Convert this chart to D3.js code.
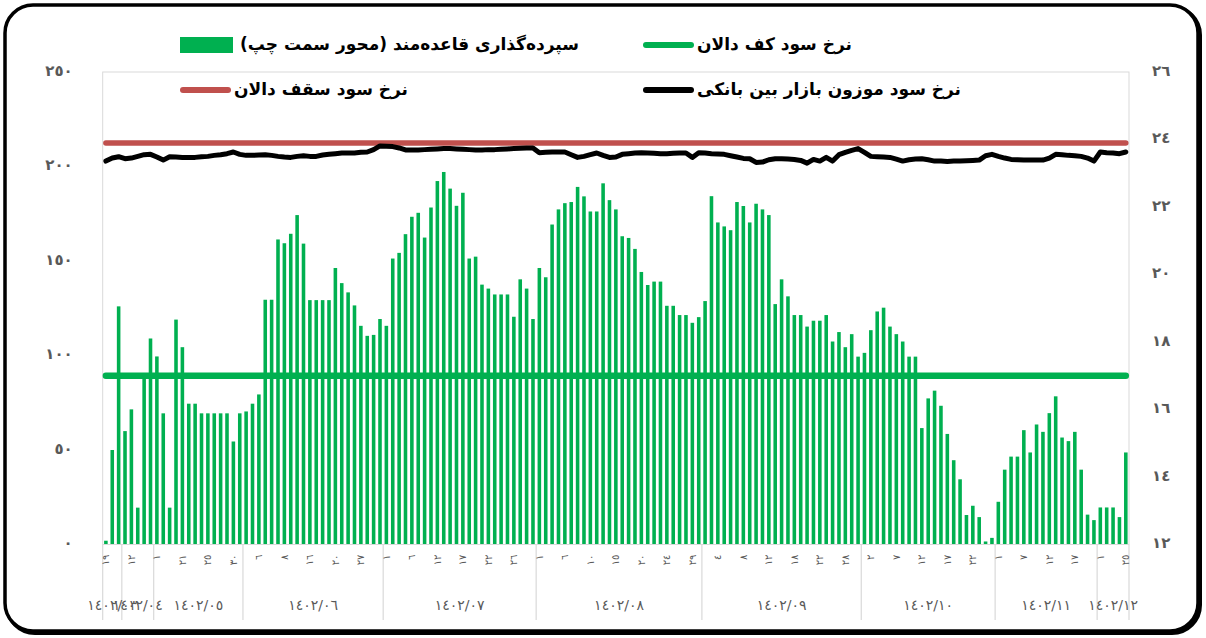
<!DOCTYPE html>
<html lang="fa">
<head>
<meta charset="UTF-8">
<title>سپرده‌گذاری قاعده‌مند و نرخ سود بازار بین بانکی</title>
<script src="https://d3js.org/d3.v7.min.js"></script>
<style>
    body { margin: 0; background: #fff; }
    text { font-family: "DejaVu Sans", sans-serif; }
    .legend-label { font-size: 17px; font-weight: bold; fill: #000; }
    .axis-label { font-size: 15px; font-weight: bold; fill: #595959; }
    .day-label { font-size: 10px; fill: #595959; }
    .month-label { font-size: 14px; fill: #595959; }
</style>
</head>
<body>
<div id="chart"></div>
<script>
// bars: rule-based deposits (left axis)
const deposits = [
    2, 50, 126, 60, 71.5, 19.5, 88, 109, 99.5, 69.4,
    19.5, 119, 104.4, 74.5, 74.5, 69.4, 69.4, 69.4, 69.4, 69.4,
    54.5, 69.4, 70.4, 74.5, 79.4, 129.5, 129.5, 161.4, 159.4, 164.4,
    174.3, 159.2, 129.3, 129.3, 129.3, 129.3, 146.3, 138.3, 133.4, 126.5,
    115.7, 110.4, 110.9, 119.3, 115.7, 151.3, 154.3, 164.2, 173.4, 175.5,
    162.4, 178.3, 192.3, 197.1, 188.3, 179.2, 186.1, 151.3, 152.3, 137.5,
    135.4, 132.3, 132.3, 132.3, 120.5, 140.3, 135.4, 119.3, 146.3, 141.4,
    169.3, 177.3, 180.6, 181.2, 189.2, 184.2, 176.2, 176.2, 191.1, 182.2,
    177.3, 163.1, 162.2, 156.4, 144.2, 137.3, 139.1, 139.1, 126.3, 126.3,
    121.4, 121.4, 117.3, 120.3, 128.8, 184.3, 170.4, 168.3, 166.3, 181.2,
    179.1, 170.4, 180.3, 177.3, 174.3, 127.2, 140.3, 131.3, 121.4, 121.4,
    115.3, 118.4, 118.4, 121.4, 107.4, 112.4, 104.4, 111.3, 99.4, 101.4,
    113.4, 123.3, 125.3, 115.3, 111.3, 107.4, 99.4, 99.4, 61.6, 77.3,
    81.4, 73.4, 58.5, 44.6, 34.5, 15.6, 20.5, 14.5, 1.6, 3.5,
    22.6, 39.6, 46.5, 46.5, 60.5, 48.7, 63.5, 59.6, 69.5, 78.4,
    56.6, 54.7, 59.6, 39.6, 15.8, 12.9, 19.6, 19.6, 19.6, 14.5,
    48.7
];

// weighted interbank rate (right axis)
const interbank = [
    23.36, 23.45, 23.49, 23.43, 23.45, 23.5, 23.55, 23.56, 23.48, 23.39,
    23.49, 23.48, 23.47, 23.47, 23.47, 23.49, 23.5, 23.53, 23.55, 23.58,
    23.63, 23.56, 23.53, 23.53, 23.54, 23.55, 23.53, 23.5, 23.48, 23.47,
    23.5, 23.52, 23.5, 23.5, 23.54, 23.56, 23.58, 23.6, 23.6, 23.6,
    23.62, 23.63, 23.7, 23.81, 23.8, 23.79, 23.75, 23.69, 23.69, 23.69,
    23.7, 23.71, 23.72, 23.73, 23.73, 23.72, 23.71, 23.7, 23.69, 23.69,
    23.7, 23.7, 23.71, 23.72, 23.73, 23.74, 23.75, 23.75, 23.61, 23.62,
    23.63, 23.63, 23.63, 23.55, 23.47, 23.5, 23.55, 23.6, 23.53, 23.47,
    23.48, 23.56, 23.58, 23.6, 23.61, 23.6, 23.59, 23.58, 23.58, 23.59,
    23.6, 23.6, 23.47, 23.61, 23.6, 23.58, 23.57, 23.56, 23.52, 23.48,
    23.44, 23.43, 23.32, 23.33, 23.4, 23.43, 23.43, 23.42, 23.41, 23.38,
    23.3, 23.41, 23.36, 23.47, 23.36, 23.55, 23.62, 23.68, 23.73, 23.62,
    23.5, 23.49, 23.48, 23.47, 23.42, 23.36, 23.4, 23.42, 23.43, 23.4,
    23.36, 23.36, 23.35, 23.36, 23.36, 23.37, 23.38, 23.39, 23.52, 23.56,
    23.5, 23.45, 23.41, 23.4, 23.39, 23.39, 23.39, 23.39, 23.45, 23.56,
    23.55, 23.53, 23.52, 23.5, 23.45, 23.36, 23.63, 23.61, 23.6, 23.58,
    23.63
];

// corridor floor / ceiling (right axis)
const floorRate = 17;
const ceilingRate = 23.9;

// day labels, shown on every 4th category
const dayLabels = [
    "١٩", "١٢", "١", "٢١", "٢٥", "٣٠", "٦", "٨", "١٦", "٢٠",
    "٢٧", "١", "٦", "١٢", "١٧", "٢٢", "٢٦", "١", "٦", "١٠",
    "١٥", "٢٠", "٢٤", "٢٩", "٤", "٨", "١٢", "١٨", "٢٢", "٢٨",
    "٢", "٧", "١٢", "١٧", "٢٢", "١", "٧", "١٢", "١٧", "١",
    "٢٥"
];
const labelStep = 4;

// month groups on the outer axis level
const monthLabels = ["١٤٠٢/٠٣", "١٤٠٢/٠٤", "١٤٠٢/٠٥", "١٤٠٢/٠٦", "١٤٠٢/٠٧",
                     "١٤٠٢/٠٨", "١٤٠٢/٠٩", "١٤٠٢/١٠", "١٤٠٢/١١", "١٤٠٢/١٢"];
const monthCounts = [3, 5, 14, 22, 24, 26, 25, 21, 16, 5];

const leftTicks = [0, 50, 100, 150, 200, 250];
const rightTicks = [12, 14, 16, 18, 20, 22, 24, 26];

// Dimensions
const width = 1206;
const height = 638;
const plot = { left: 102.7, right: 1129, top: 72, bottom: 544.5 };

const toFa = v => String(v).replace(/\d/g, d => "٠١٢٣٤٥٦٧٨٩"[d]);

const svg = d3.select("#chart")
    .append("svg")
    .attr("width", width)
    .attr("height", height);

// Outer rounded frame
svg.append("rect")
    .attr("x", 7).attr("y", 7)
    .attr("width", 1193).attr("height", 626)
    .attr("rx", 28)
    .attr("fill", "none")
    .attr("stroke", "#000")
    .attr("stroke-width", 4);
svg.append("rect")
    .attr("x", 5).attr("y", 5)
    .attr("width", 1193).attr("height", 626)
    .attr("rx", 28)
    .attr("fill", "#fff")
    .attr("stroke", "#000")
    .attr("stroke-width", 3.5);

// Scales
const x = d3.scaleBand()
    .domain(d3.range(deposits.length))
    .range([plot.left, plot.right])
    .paddingInner(0.44)
    .paddingOuter(0.22);

const yL = d3.scaleLinear().domain([0, 250]).range([plot.bottom, plot.top]);
const yR = d3.scaleLinear().domain([12, 26]).range([plot.bottom, plot.top]);

const cx = i => x(i) + x.bandwidth() / 2;
const bandEdge = k => k >= deposits.length ? plot.right : x(k) - x.step() * x.paddingInner() / 2;

// Plot area border
svg.append("rect")
    .attr("x", plot.left).attr("y", plot.top)
    .attr("width", plot.right - plot.left)
    .attr("height", plot.bottom - plot.top)
    .attr("fill", "none")
    .attr("stroke", "#d9d9d9")
    .attr("stroke-width", 1);

// Bars
svg.append("g")
    .selectAll("rect")
    .data(deposits)
    .join("rect")
    .attr("x", (d, i) => x(i))
    .attr("y", d => yL(d))
    .attr("width", x.bandwidth())
    .attr("height", d => yL(0) - yL(d))
    .attr("fill", "#00b050");

// Corridor lines
const first = 0, last = deposits.length - 1;
svg.append("line")
    .attr("x1", cx(first)).attr("x2", cx(last))
    .attr("y1", yR(ceilingRate)).attr("y2", yR(ceilingRate))
    .attr("stroke", "#c0504d")
    .attr("stroke-width", 5.5)
    .attr("stroke-linecap", "round");

svg.append("line")
    .attr("x1", cx(first)).attr("x2", cx(last))
    .attr("y1", yR(floorRate)).attr("y2", yR(floorRate))
    .attr("stroke", "#00b050")
    .attr("stroke-width", 6.5)
    .attr("stroke-linecap", "round");

// Interbank line
const line = d3.line()
    .x((d, i) => cx(i))
    .y(d => yR(d));

svg.append("path")
    .datum(interbank)
    .attr("d", line)
    .attr("fill", "none")
    .attr("stroke", "#000")
    .attr("stroke-width", 5)
    .attr("stroke-linejoin", "round")
    .attr("stroke-linecap", "round");

// Left axis
const axisL = svg.append("g")
    .attr("transform", `translate(${plot.left - 27},0)`)
    .call(d3.axisLeft(yL).tickValues(leftTicks).tickSize(0).tickFormat(toFa));
axisL.select(".domain").remove();
axisL.selectAll("text").attr("class", "axis-label").attr("dy", "0.2em");

// Right axis
const axisR = svg.append("g")
    .attr("transform", `translate(${plot.right + 20},0)`)
    .call(d3.axisRight(yR).tickValues(rightTicks).tickSize(0).tickFormat(toFa));
axisR.select(".domain").remove();
axisR.selectAll("text").attr("class", "axis-label").attr("dy", "0.2em");

// Category axis: base line, group separators, day and month labels
svg.append("line")
    .attr("x1", plot.left).attr("x2", plot.right)
    .attr("y1", plot.bottom).attr("y2", plot.bottom)
    .attr("stroke", "#d9d9d9");

const bounds = [0];
monthCounts.forEach(c => bounds.push(bounds[bounds.length - 1] + c));

svg.append("g")
    .selectAll("line")
    .data(bounds)
    .join("line")
    .attr("x1", k => bandEdge(k)).attr("x2", k => bandEdge(k))
    .attr("y1", plot.bottom).attr("y2", 620)
    .attr("stroke", "#d9d9d9")
    .attr("stroke-width", 1.2);

svg.append("g")
    .selectAll("text")
    .data(dayLabels)
    .join("text")
    .attr("class", "day-label")
    .attr("transform", (d, j) => `translate(${cx(j * labelStep)},${plot.bottom + 10}) rotate(-90)`)
    .attr("text-anchor", "end")
    .attr("dy", "0.35em")
    .text(d => d);

svg.append("g")
    .selectAll("text")
    .data(monthLabels)
    .join("text")
    .attr("class", "month-label")
    .attr("x", (d, m) => (bandEdge(bounds[m]) + bandEdge(bounds[m + 1])) / 2)
    .attr("y", 605)
    .attr("text-anchor", "middle")
    .attr("dy", "0.35em")
    .text(d => d);

// Legend
const legendItems = [
    { name: "سپرده‌گذاری قاعده‌مند (محور سمت چپ)", type: "bar", color: "#00b050", col: 0, row: 0 },
    { name: "نرخ سود کف دالان", type: "line", color: "#00b050", col: 1, row: 0 },
    { name: "نرخ سود سقف دالان", type: "line", color: "#c0504d", col: 0, row: 1 },
    { name: "نرخ سود موزون بازار بین بانکی", type: "line", color: "#000", col: 1, row: 1 }
];
const colX = [180, 643];
const rowY = [45, 90];

const legend = svg.append("g")
    .selectAll("g")
    .data(legendItems)
    .join("g")
    .attr("transform", d => `translate(${colX[d.col]},${rowY[d.row]})`);

legend.filter(d => d.type === "bar")
    .append("rect")
    .attr("x", 0).attr("y", -8)
    .attr("width", 53).attr("height", 16)
    .attr("fill", d => d.color);

legend.filter(d => d.type === "line")
    .append("line")
    .attr("x1", 3).attr("x2", 48)
    .attr("y1", 0).attr("y2", 0)
    .attr("stroke", d => d.color)
    .attr("stroke-width", 6)
    .attr("stroke-linecap", "round");

legend.append("text")
    .attr("class", "legend-label")
    .attr("x", d => d.type === "bar" ? 60 : 54)
    .attr("dy", "0.3em")
    .attr("direction", "rtl")
    .attr("text-anchor", "end")
    .text(d => d.name);
</script>
</body>
</html>
